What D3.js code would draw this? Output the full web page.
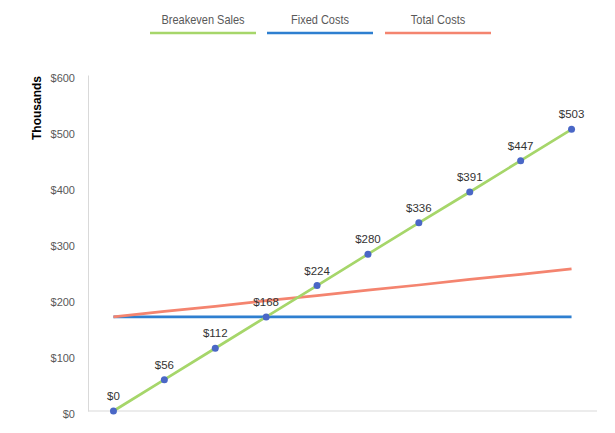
<!DOCTYPE html>
<html>
<head>
<meta charset="utf-8">
<script src="https://cdn.jsdelivr.net/npm/d3@7"></script>
<style>
  body { margin: 0; background: #fff; }
  svg { display: block; }
</style>
</head>
<body>
<div id="chart"></div>
<script>
// ----------------------------------
// DATA (thousands of dollars)
// ----------------------------------
const steps = [0, 1, 2, 3, 4, 5, 6, 7, 8, 9];
const breakevenSales = [0, 56, 112, 168, 224, 280, 336, 391, 447, 503];
const fixedCosts = [168, 168, 168, 168, 168, 168, 168, 168, 168, 168];
const totalCosts = [168, 178, 187, 197, 206, 216, 225, 235, 244, 254];
const yTicks = [0, 100, 200, 300, 400, 500, 600];

const seriesNames = ['Breakeven Sales', 'Fixed Costs', 'Total Costs'];
const seriesColors = ['#a6d66a', '#2e7fd0', '#f4846f'];

const width = 615, height = 433;
const margin = { top: 75, right: 18, bottom: 22, left: 88 };
const innerWidth = width - margin.left - margin.right;
const innerHeight = height - margin.top - margin.bottom;

const svg = d3.select('#chart')
  .append('svg')
  .attr('width', width)
  .attr('height', height);

// ----------------------------------
// SCALES
// ----------------------------------
const xScale = d3.scaleBand()
  .domain(steps)
  .range([0, innerWidth]);

const xMid = d => xScale(d) + xScale.bandwidth() / 2;

const yScale = d3.scaleLinear()
  .domain([0, 600])
  .range([innerHeight, 0]);

const g = svg.append('g')
  .attr('transform', `translate(${margin.left},${margin.top})`);

// ----------------------------------
// AXES
// ----------------------------------
// left axis: line plus labels, no tick marks
const yAxis = g.append('g')
  .call(d3.axisLeft(yScale).tickValues(yTicks).tickSize(0).tickPadding(13)
    .tickFormat(d => '$' + d));
yAxis.select('.domain').attr('stroke', '#d9d9d9');
yAxis.selectAll('.tick text')
  .attr('dy', '0.55em')
  .attr('fill', '#595959')
  .style('font-family', '"Liberation Sans", sans-serif')
  .style('font-size', '11px');

// bottom axis line only, no ticks
g.append('line')
  .attr('x1', 0)
  .attr('x2', innerWidth)
  .attr('y1', yScale(0))
  .attr('y2', yScale(0))
  .attr('stroke', '#d9d9d9');

svg.append('text')
  .attr('transform', `translate(41,108) rotate(-90)`)
  .attr('text-anchor', 'middle')
  .attr('fill', '#000')
  .style('font-family', '"Liberation Sans", sans-serif')
  .style('font-weight', 'bold')
  .style('font-size', '12px')
  .text('Thousands');

// ----------------------------------
// LINES
// ----------------------------------
const line = d3.line()
  .x((d, i) => xMid(steps[i]))
  .y(d => yScale(d));

[fixedCosts, totalCosts, breakevenSales].forEach((vals, k) => {
  const color = [seriesColors[1], seriesColors[2], seriesColors[0]][k];
  g.append('path')
    .datum(vals)
    .attr('fill', 'none')
    .attr('stroke', color)
    .attr('stroke-width', 2.75)
    .attr('d', line);
});

// markers + labels on breakeven sales
g.selectAll('circle.pt')
  .data(breakevenSales)
  .enter()
  .append('circle')
  .attr('class', 'pt')
  .attr('cx', (d, i) => xMid(steps[i]))
  .attr('cy', d => yScale(d))
  .attr('r', 3.5)
  .attr('fill', '#4a67c6');

g.selectAll('text.lbl')
  .data(breakevenSales)
  .enter()
  .append('text')
  .attr('class', 'lbl')
  .attr('x', (d, i) => xMid(steps[i]))
  .attr('y', d => yScale(d) - 11)
  .attr('text-anchor', 'middle')
  .attr('fill', '#333')
  .style('font-family', '"Liberation Sans", sans-serif')
  .style('font-size', '11.5px')
  .text(d => '$' + d);

// ----------------------------------
// LEGEND
// ----------------------------------
const legendCenters = [203, 320, 438];
const legend = svg.append('g');
seriesNames.forEach((name, i) => {
  legend.append('text')
    .attr('transform', `translate(${legendCenters[i]},24) scale(0.88,1)`)
    .attr('text-anchor', 'middle')
    .attr('fill', '#595959')
    .style('font-family', '"Liberation Sans", sans-serif')
    .style('font-size', '12.5px')
    .text(name);
  legend.append('line')
    .attr('x1', legendCenters[i] - 53)
    .attr('x2', legendCenters[i] + 53)
    .attr('y1', 33)
    .attr('y2', 33)
    .attr('stroke', seriesColors[i])
    .attr('stroke-width', 2.5);
});
</script>
</body>
</html>
